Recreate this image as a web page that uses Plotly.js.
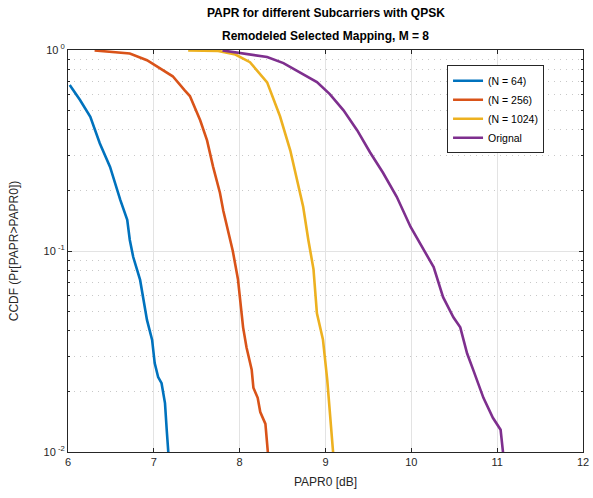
<!DOCTYPE html>
<html><head><meta charset="utf-8">
<script src="https://cdn.plot.ly/plotly-3.0.1.min.js"></script>
<style>html,body{margin:0;padding:0;background:#fff}#chart{width:593px;height:498px}</style>
</head><body><div id="chart"></div>
<script>
const seriesNames = ["(N = 64)", "(N = 256)", "(N = 1024)", "Orignal"];
const seriesColors = ["#0072BD", "#D95319", "#EDB120", "#7E2F8E"];

const n64X = [6.02, 6.14, 6.26, 6.37, 6.49, 6.61, 6.69, 6.72, 6.76, 6.84, 6.92, 6.98, 7.01, 7.05, 7.09, 7.13, 7.15, 7.17];
const n64Y = [0.67, 0.564, 0.465, 0.344, 0.262, 0.179, 0.143, 0.1135, 0.0933, 0.0718, 0.0454, 0.0361, 0.0277, 0.0236, 0.022, 0.0175, 0.0129, 0.0098];

const n256X = [6.31, 6.72, 6.92, 7.07, 7.22, 7.36, 7.42, 7.54, 7.62, 7.69, 7.77, 7.81, 7.89, 7.92, 7.98, 8.04, 8.08, 8.14, 8.16, 8.21, 8.24, 8.30, 8.33];
const n256Y = [0.995, 0.96, 0.89, 0.81, 0.74, 0.63, 0.59, 0.447, 0.355, 0.263, 0.195, 0.158, 0.1135, 0.1, 0.0724, 0.0417, 0.0331, 0.0257, 0.0209, 0.0186, 0.0158, 0.0138, 0.0098];

const n1024X = [7.40, 7.75, 7.95, 8.12, 8.32, 8.47, 8.59, 8.67, 8.74, 8.80, 8.86, 8.90, 8.97, 9.02, 9.05, 9.09];
const n1024Y = [0.995, 0.99, 0.95, 0.87, 0.69, 0.468, 0.316, 0.224, 0.166, 0.1135, 0.0813, 0.049, 0.0363, 0.0229, 0.0162, 0.0098];

const origX = [7.80, 8.32, 8.51, 8.70, 8.90, 9.05, 9.21, 9.37, 9.52, 9.67, 9.83, 9.99, 10.10, 10.26, 10.37, 10.49, 10.57, 10.65, 10.72, 10.84, 10.95, 11.04, 11.07];
const origY = [0.995, 0.923, 0.861, 0.776, 0.692, 0.603, 0.501, 0.398, 0.309, 0.245, 0.186, 0.132, 0.110, 0.0832, 0.0589, 0.0468, 0.0417, 0.0309, 0.0257, 0.0186, 0.0148, 0.0129, 0.0098];

const xTicks = [6, 7, 8, 9, 10, 11, 12];
const yTickVals = [0.01, 0.1, 1];
const yTickText = ["10<sup> -2</sup>", "10<sup> -1</sup>", "10<sup> 0</sup>"];

const xs = [n64X, n256X, n1024X, origX];
const ys = [n64Y, n256Y, n1024Y, origY];
const traces = seriesNames.map((nm, i) => ({
  x: xs[i], y: ys[i], name: nm, type: 'scatter', mode: 'lines',
  line: {color: seriesColors[i], width: 2.6}
}));

const font = {family: 'Liberation Sans, Arial, sans-serif', size: 11, color: '#262626'};
const layout = {
  width: 593, height: 498,
  margin: {l: 68, r: 10, t: 50, b: 46},
  paper_bgcolor: '#fff', plot_bgcolor: '#fff',
  font: font,
  showlegend: true,
  legend: {x: 0.736, y: 0.962, xanchor: 'left', yanchor: 'top', bgcolor: '#fff',
    bordercolor: '#262626', borderwidth: 1, font: {family: font.family, size: 10.5, color: '#000'},
    tracegroupgap: 0},
  xaxis: {range: [6, 12], tickvals: xTicks, ticktext: xTicks.map(String),
    showgrid: true, gridcolor: '#e3e3e3', gridwidth: 1,
    showline: true, linecolor: '#262626', linewidth: 1, mirror: 'ticks',
    ticks: 'inside', ticklen: 4, tickcolor: '#262626', zeroline: false,
    tickfont: {size: 11, color: '#262626'},
    title: {text: 'PAPR0 [dB]', font: {size: 12, color: '#262626'}, standoff: 10}},
  yaxis: {type: 'log', range: [-2, 0], tickvals: yTickVals, ticktext: yTickText,
    showgrid: true, gridcolor: '#e3e3e3', gridwidth: 1,
    showline: true, linecolor: '#262626', linewidth: 1, mirror: 'ticks',
    ticks: 'inside', ticklen: 4, tickcolor: '#262626', zeroline: false,
    tickfont: {size: 11, color: '#262626'},
    minor: {dtick: 'D1', showgrid: true, griddash: '1px,5px', gridcolor: '#c8c8c8', gridwidth: 1,
      ticks: 'inside', ticklen: 2, tickcolor: '#262626'},
    title: {text: 'CCDF (Pr[PAPR>PAPR0])', font: {size: 12, color: '#262626'}, standoff: 22}},
  annotations: [
    {text: '<b>PAPR for different Subcarriers with QPSK</b>', xref: 'paper', yref: 'paper',
     x: 0.5, y: (498 - 46 - 13) / 402, xanchor: 'center', yanchor: 'middle', showarrow: false,
     font: {size: 12, color: '#000'}},
    {text: '<b>Remodeled Selected Mapping, M = 8</b>', xref: 'paper', yref: 'paper',
     x: 0.5, y: (498 - 46 - 36) / 402, xanchor: 'center', yanchor: 'middle', showarrow: false,
     font: {size: 12, color: '#000'}}
  ]
};
Plotly.newPlot('chart', traces, layout, {displayModeBar: false, staticPlot: true});
</script></body></html>
